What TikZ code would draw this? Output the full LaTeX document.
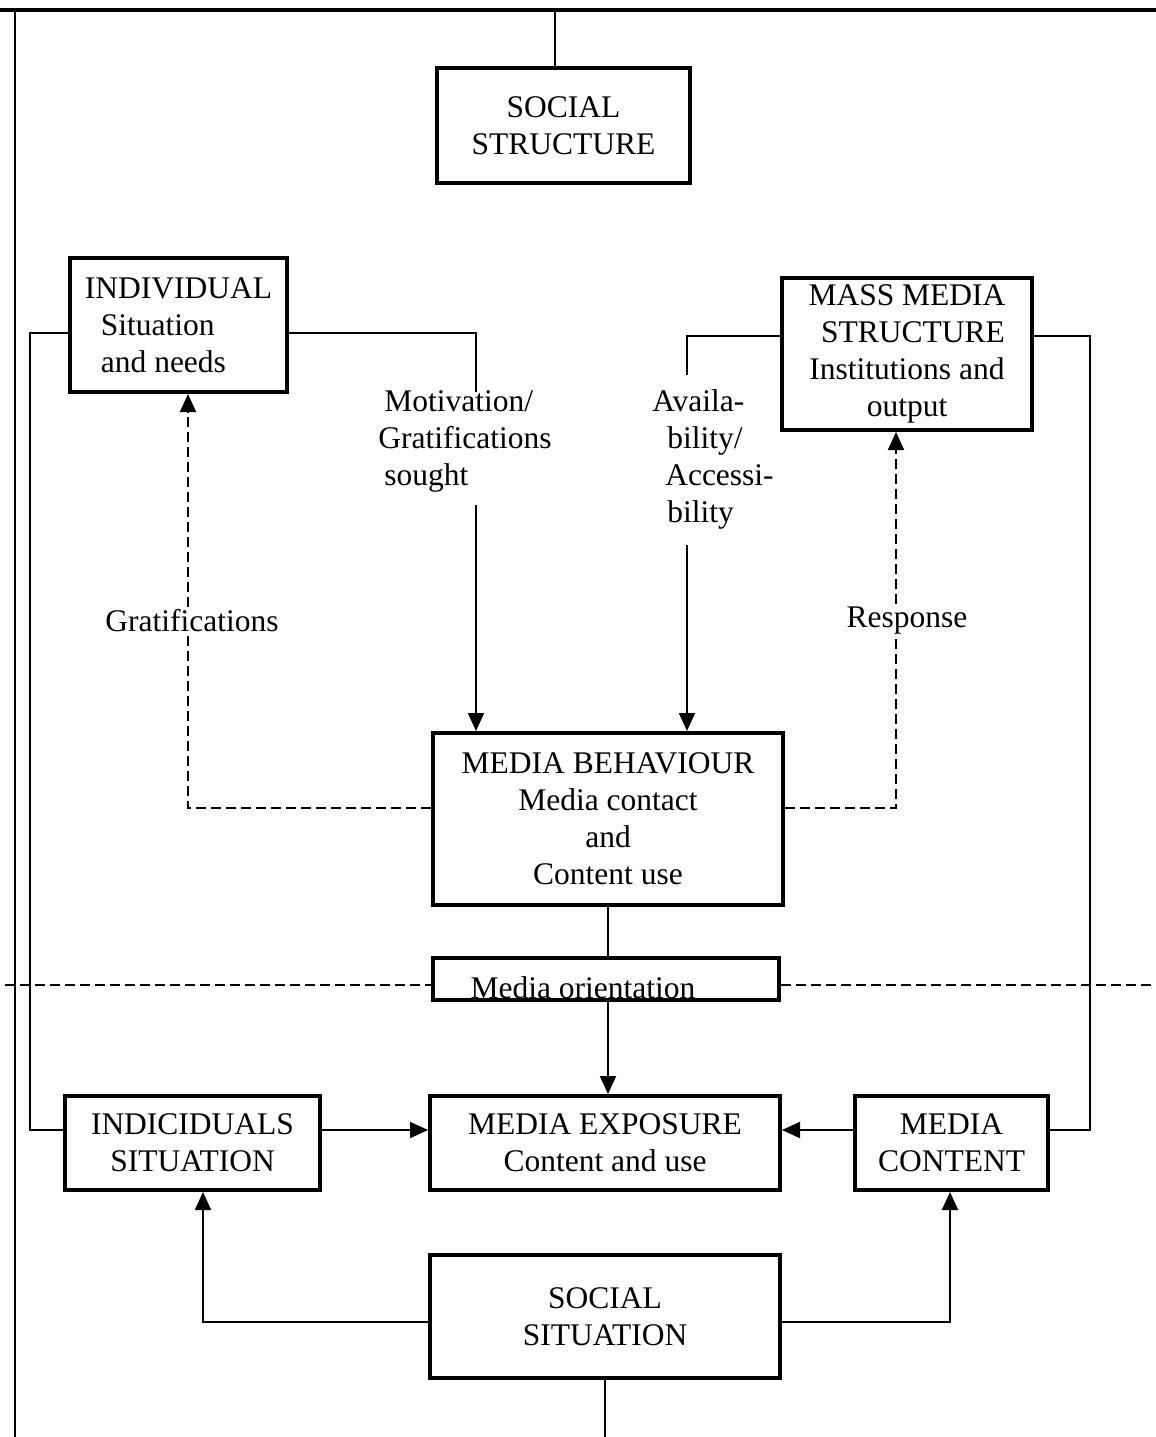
\documentclass[tikz,border=0pt]{standalone}
\usepackage{fontspec}
\setmainfont{Liberation Serif}
\usetikzlibrary{arrows.meta,calc}

\tikzset{
  box/.style={draw, line width=4pt, fill=white, inner sep=0pt,
              align=center, font=\fontsize{31.5}{37}\selectfont},
  lbl/.style={inner sep=0pt, align=left, font=\fontsize{31.5}{37}\selectfont},
  link/.style={line width=2pt},
  arr/.style={line width=2pt, -{Triangle[length=18pt,width=16pt]}},
  dashl/.style={line width=2pt, dash pattern=on 10pt off 5pt},
  darr/.style={line width=2pt, dash pattern=on 10pt off 5pt,
               -{Triangle[length=18pt,width=16pt]}},
}

\begin{document}
\begin{tikzpicture}[x=1pt,y=-1pt]
\useasboundingbox (0,0) rectangle (1156,1437);

% outer frame
\coordinate (tl) at (0,10);
\coordinate (tr) at (1156,10);
\coordinate (fl) at (15,10);
\coordinate (bl) at (15,1437);
\draw[line width=3.2pt] (tl) -- (tr);
\draw[line width=2.2pt] (fl) -- (bl);

% boxes
\node[box, minimum width=253pt, minimum height=115pt] (ss) at (563.5,125.5)
  {SOCIAL\\STRUCTURE};
\node[box, align=left, minimum width=217pt, minimum height=134pt] (ind) at (178.5,325)
  {INDIVIDUAL\\\hspace*{16pt}Situation\\\hspace*{16pt}and needs};
\node[box, minimum width=250pt, minimum height=152pt] (mms) at (907,354)
  {MASS MEDIA\\\hspace*{12pt}STRUCTURE\\Institutions and\\output};
\node[box, minimum width=350pt, minimum height=172pt] (mb) at (608,819)
  {MEDIA BEHAVIOUR\\Media contact\\and\\Content use};
\node[box, minimum width=346pt, minimum height=42pt] (mo) at (606,979) {};
\node[lbl] (mot) at (583,988) {Media orientation};
\node[box, minimum width=255pt, minimum height=94pt] (is) at (192.5,1143)
  {INDICIDUALS\\SITUATION};
\node[box, minimum width=350pt, minimum height=94pt] (me) at (605,1143)
  {MEDIA EXPOSURE\\Content and use};
\node[box, minimum width=193pt, minimum height=94pt] (mc) at (951.5,1143)
  {MEDIA\\CONTENT};
\node[box, minimum width=350pt, minimum height=123pt] (sit) at (605,1316.5)
  {SOCIAL\\SITUATION};

% labels on the connectors
\node[lbl] (motiv) at (465,441)
  {\hspace*{6pt}Motivation/\\Gratifications\\\hspace*{6pt}sought};
\node[lbl] (avail) at (713,459)
  {Availa-\\\hspace*{15pt}bility/\\\hspace*{13pt}Accessi-\\\hspace*{15pt}bility};
\node[lbl, fill=white, inner sep=3pt] (grat) at (192,621) {Gratifications};
\node[lbl, fill=white, inner sep=3pt] (resp) at (907,621) {Response};

% social structure to frame
\coordinate (sstop) at (555,10);
\draw[link] (sstop) -- (sstop |- ss.north);

% individual: motivation path
\coordinate (m1) at (476,333);
\coordinate (m2) at (476,392);
\coordinate (m3) at (476,505);
\draw[link] (ind.east |- m1) -- (m1) -- (m2);
\draw[arr] (m3) -- (m3 |- mb.north);

% mass media: availability path
\coordinate (a1) at (687,336);
\coordinate (a2) at (687,375);
\coordinate (a3) at (687,545);
\draw[link] (mms.west |- a1) -- (a1) -- (a2);
\draw[arr] (a3) -- (a3 |- mb.north);

% gratifications feedback (dashed)
\coordinate (g1) at (188,808);
\draw[dashl] (mb.west |- g1) -- (g1) -- (grat.south -| g1);
\draw[darr] (grat.north -| g1) -- (g1 |- ind.south);

% response feedback (dashed)
\coordinate (r1) at (896,808);
\draw[dashl] (mb.east |- r1) -- (r1) -- (resp.south -| r1);
\draw[darr] (resp.north -| r1) -- (r1 |- mms.south);

% media orientation
\coordinate (o1) at (608,0);
\draw[link] (o1 |- mb.south) -- (o1 |- mo.north);
\draw[arr] (o1 |- mo.south) -- (o1 |- me.north);

% dashed level line
\coordinate (d1) at (5,985);
\coordinate (d2) at (1156,985);
\draw[dashl] (d1) -- (d1 -| mo.west);
\draw[dashl] (d2 -| mo.east) -- (d2);

% left loop: individual to individuals situation
\coordinate (l1) at (30,333);
\coordinate (l2) at (30,1130);
\draw[link] (ind.west |- l1) -- (l1) -- (l2) -- (l2 -| is.west);

% right loop: mass media to media content
\coordinate (q1) at (1090,336);
\coordinate (q2) at (1090,1130);
\draw[link] (mms.east |- q1) -- (q1) -- (q2) -- (q2 -| mc.east);

% into media exposure
\coordinate (e1) at (0,1130);
\draw[arr] (is.east |- e1) -- (me.west |- e1);
\draw[arr] (mc.west |- e1) -- (me.east |- e1);

% social situation
\coordinate (s1) at (203,1322);
\coordinate (s2) at (950,1322);
\draw[arr] (sit.west |- s1) -- (s1) -- (s1 |- is.south);
\draw[arr] (sit.east |- s2) -- (s2) -- (s2 |- mc.south);
\coordinate (sb) at (605,1437);
\draw[link] (sb |- sit.south) -- (sb);
\end{tikzpicture}
\end{document}
